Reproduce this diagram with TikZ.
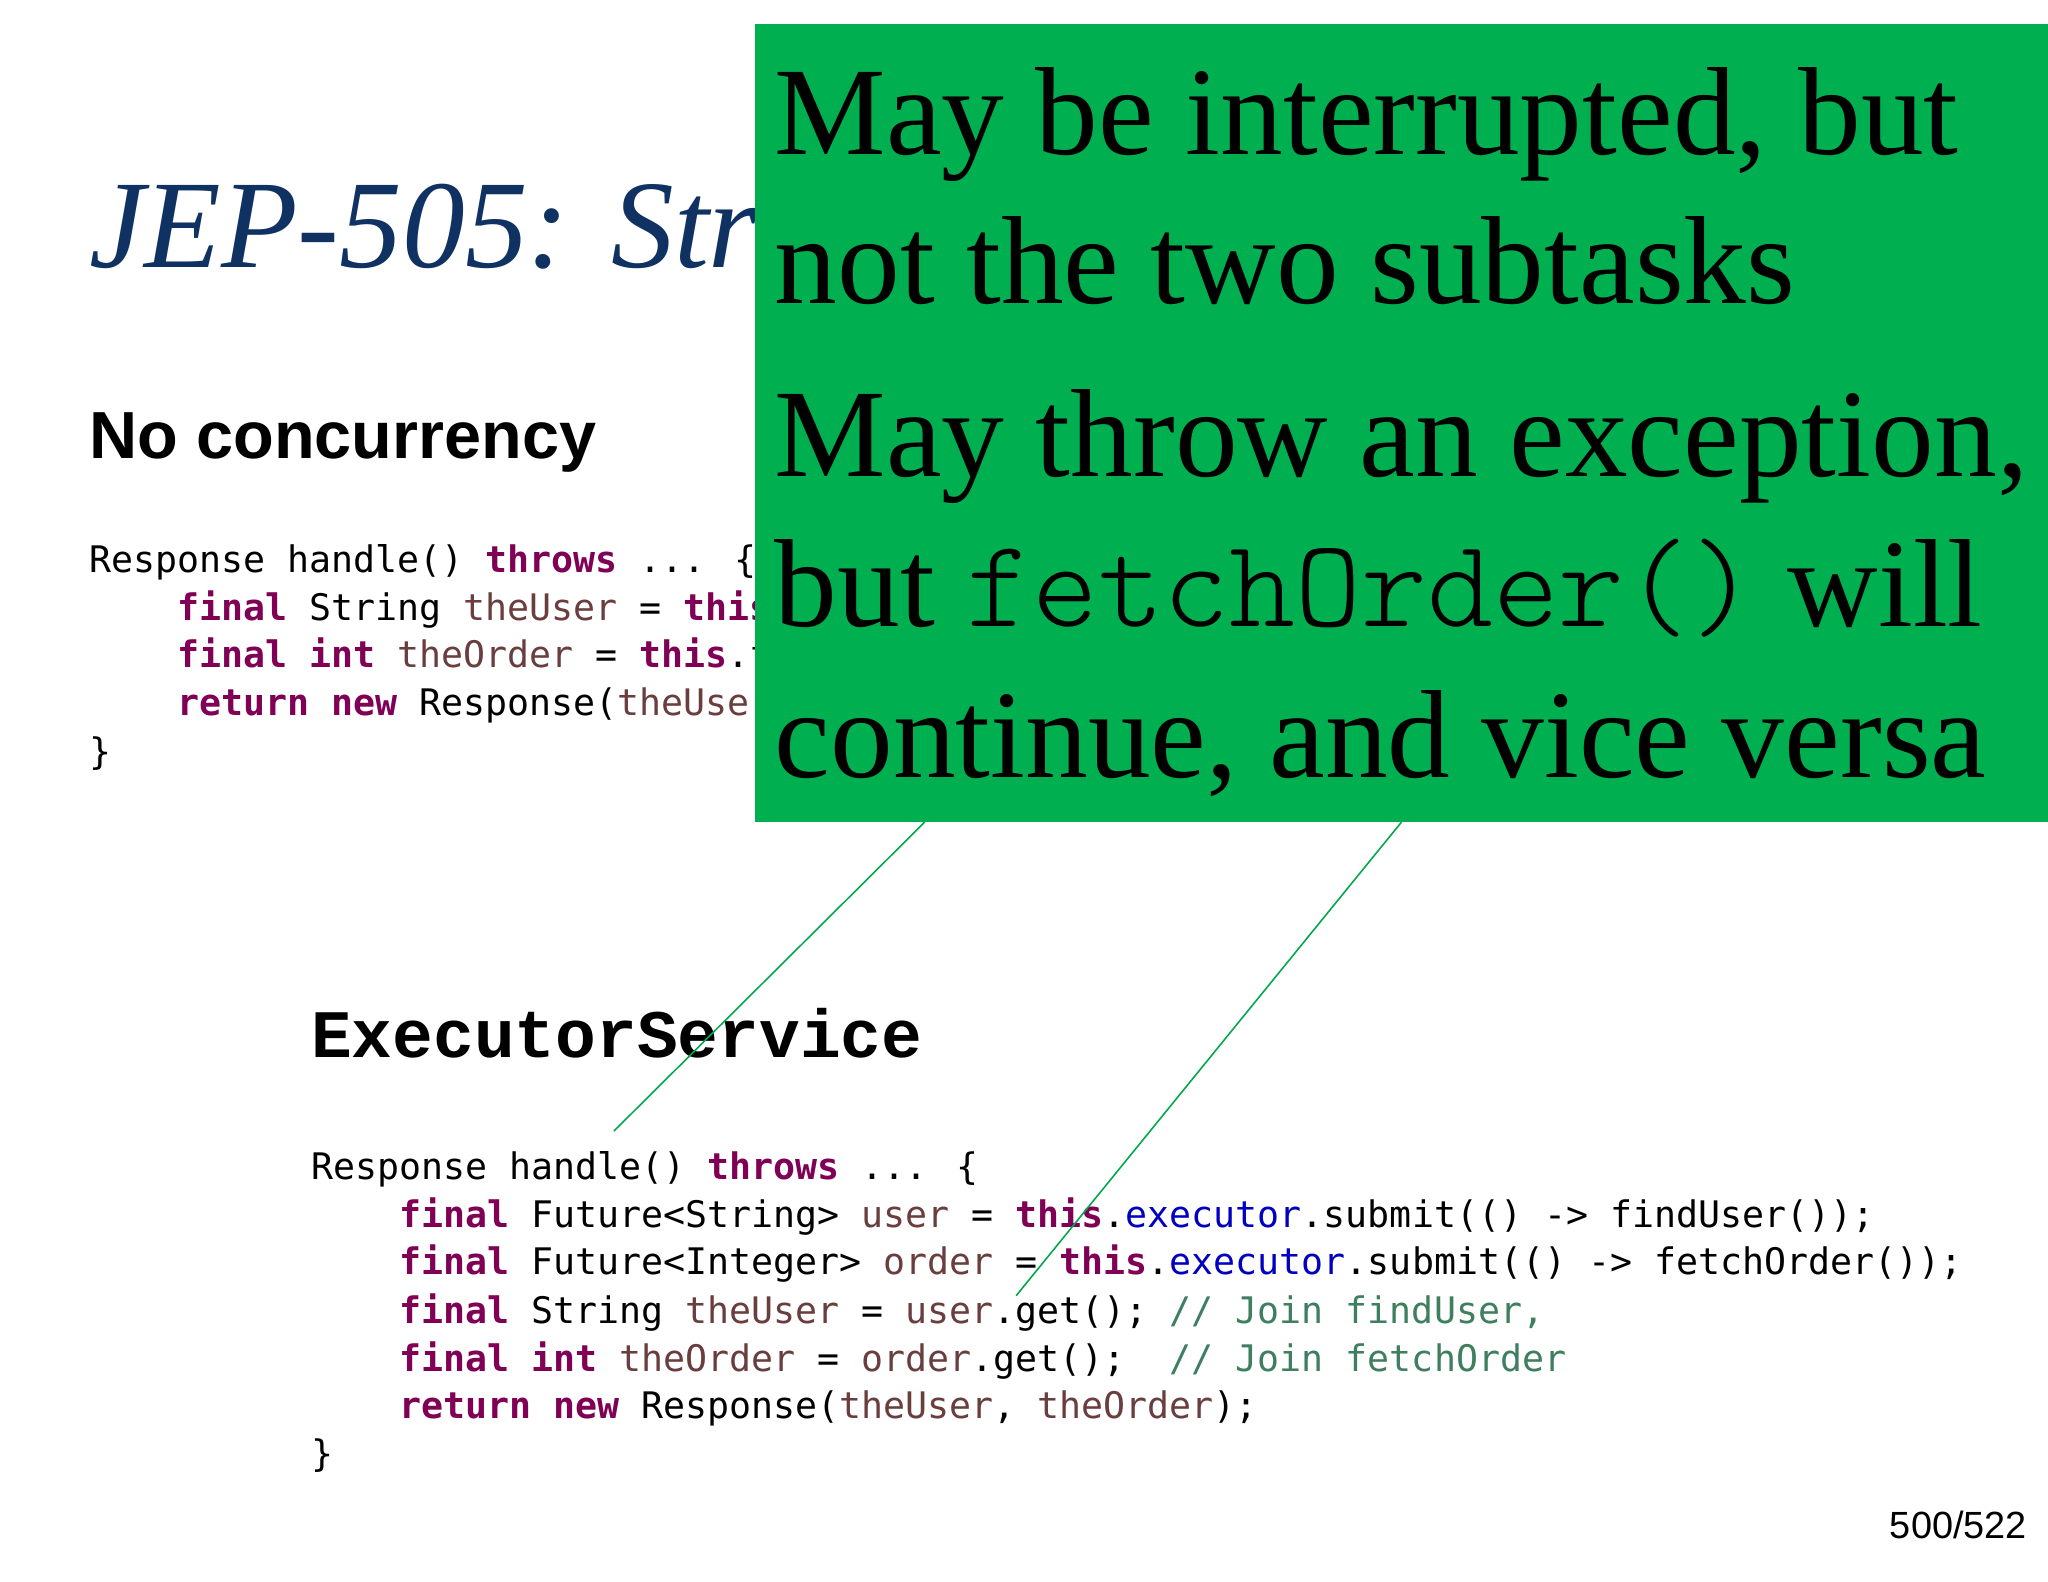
\documentclass[tikz,border=0pt]{standalone}
\usepackage{fontspec}
\setmainfont{Liberation Serif}
\newfontfamily\codefont{DejaVu Sans Mono}
\newfontfamily\hsans{Liberation Sans}
\newfontfamily\cbold{Liberation Mono}
\newfontfamily\thinmono{Latin Modern Mono Light}
\definecolor{kw}{HTML}{7F0055}
\definecolor{var}{HTML}{6A3E3E}
\definecolor{fld}{HTML}{0000C0}
\definecolor{cmt}{HTML}{3F7F5F}
\definecolor{titleblue}{HTML}{0F3262}
\definecolor{boxgreen}{HTML}{00B050}
\definecolor{linegreen}{HTML}{00A84A}
\newcommand{\K}[1]{\textcolor{kw}{\bfseries #1}}
\newcommand{\V}[1]{\textcolor{var}{#1}}
\newcommand{\F}[1]{\textcolor{fld}{#1}}
\newcommand{\C}[1]{\textcolor{cmt}{#1}}
\begin{document}
\begin{tikzpicture}[x=1pt,y=-1pt,
  codeline/.style={anchor=base west,inner sep=0pt,font=\codefont\fontsize{28}{30}\selectfont},
  bigtxt/.style={anchor=base west,inner sep=0pt,font=\fontsize{96}{106}\selectfont}]
\useasboundingbox[fill=white] (0,0) rectangle (1568,1211);
\node[anchor=base west,inner sep=0pt,text=titleblue,font=\itshape\fontsize{96}{106}\selectfont] (title) at (68,205) {JEP-505: Structured Concurrency};
\node[anchor=base west,inner sep=0pt,font=\hsans\bfseries\fontsize{51}{55}\selectfont] (nc) at (68,351) {No concurrency};
\node[codeline] (a1) at (68,438) {Response handle() \K{throws} ... \{};
\node[codeline] (a2) at (68,475) {\phantom{xxxx}\K{final} String \V{theUser} = \K{this}.findUser();};
\node[codeline] (a3) at (68,511) {\phantom{xxxx}\K{final} \K{int} \V{theOrder} = \K{this}.fetchOrder();};
\node[codeline] (a4) at (68,548) {\phantom{xxxx}\K{return} \K{new} Response(\V{theUser}, \V{theOrder});};
\node[codeline] (a5) at (68,585) {\}};

\node[anchor=base west,inner sep=0pt,font=\cbold\bfseries\fontsize{52}{56}\selectfont] (es) at (238,810) {ExecutorService};
\node[codeline] (b1) at (238,903) {Response handle() \K{throws} ... \{};
\node[codeline] (b2) at (238,940) {\phantom{xxxx}\K{final} Future<String> \V{user} = \K{this}.\F{executor}.submit(() -> findUser());};
\node[codeline] (b3) at (238,976) {\phantom{xxxx}\K{final} Future<Integer> \V{order} = \K{this}.\F{executor}.submit(() -> fetchOrder());};
\node[codeline] (b4) at (238,1013) {\phantom{xxxx}\K{final} String \V{theUser} = \V{user}.get(); \C{// Join findUser,}};
\node[codeline] (b5) at (238,1050) {\phantom{xxxx}\K{final} \K{int} \V{theOrder} = \V{order}.get();\phantom{x} \C{// Join fetchOrder}};
\node[codeline] (b6) at (238,1086) {\phantom{xxxx}\K{return} \K{new} Response(\V{theUser}, \V{theOrder});};
\node[codeline] (b7) at (238,1123) {\}};

\node[fill=boxgreen,inner sep=0pt,minimum width=990pt,minimum height=611pt,anchor=north west] (box) at (578,18) {};
\node[bigtxt] (t1) at (593,118) {May be interrupted, but};
\node[bigtxt] (t2) at (593,232) {not the two subtasks};
\node[bigtxt] (t3) at (593,365) {May throw an exception,};
\node[bigtxt] (t4) at (593,480) {but {\thinmono\fontsize{96}{100}\selectfont fetchOrder()} will};
\node[bigtxt] (t5) at (593,595) {continue, and vice versa};

\coordinate (e1) at (470,866);
\coordinate (e2) at (778,992);
\draw[linegreen,line width=1.2pt] (box.south west -| 708,0) -- (e1);
\draw[linegreen,line width=1.2pt] (box.south west -| 1073,0) -- (e2);

\node[anchor=base east,inner sep=0pt,font=\hsans\fontsize{29}{32}\selectfont] (pg) at (1552,1178) {500/522};
\end{tikzpicture}
\end{document}
